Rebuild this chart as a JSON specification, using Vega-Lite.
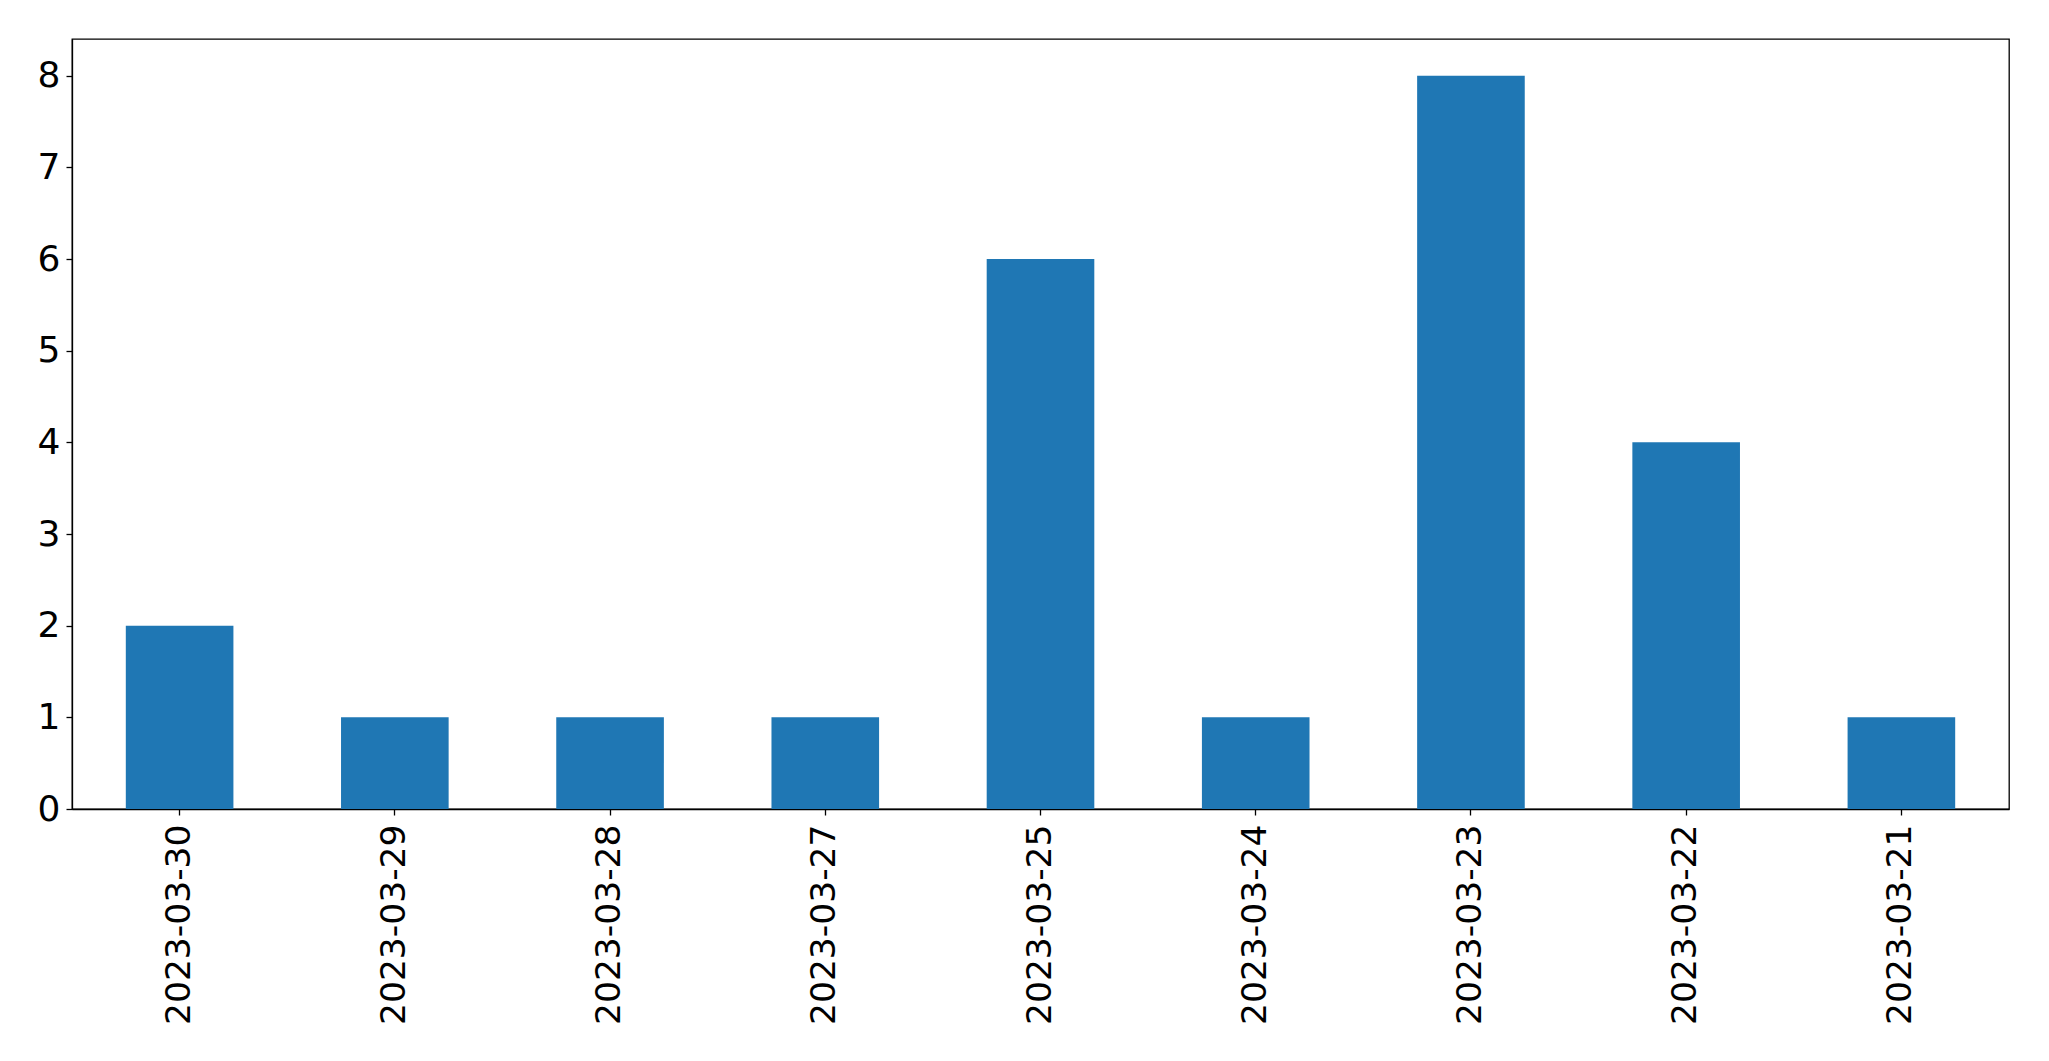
{
  "$schema": "https://vega.github.io/schema/vega-lite/v6.json",
  "autosize": {"type": "none"},
  "width": 1937,
  "height": 770,
  "padding": {"left": 72, "top": 39, "right": 40, "bottom": 252},
  "background": "white",
  "config": {
    "view": {"stroke": "black", "strokeWidth": 1.3},
    "axis": {
      "labelFont": "DejaVu Sans",
      "labelFontSize": 36,
      "labelColor": "black",
      "labelLimit": 0,
      "domainColor": "black",
      "tickColor": "black",
      "tickSize": 6,
      "tickWidth": 1.3,
      "domainWidth": 1.3,
      "grid": false,
      "title": null
    }
  },
  "data": {
    "values": [
      {"date": "2023-03-30", "count": 2},
      {"date": "2023-03-29", "count": 1},
      {"date": "2023-03-28", "count": 1},
      {"date": "2023-03-27", "count": 1},
      {"date": "2023-03-25", "count": 6},
      {"date": "2023-03-24", "count": 1},
      {"date": "2023-03-23", "count": 8},
      {"date": "2023-03-22", "count": 4},
      {"date": "2023-03-21", "count": 1}
    ]
  },
  "mark": {"type": "bar", "color": "#1f77b4"},
  "encoding": {
    "x": {
      "field": "date",
      "type": "nominal",
      "sort": null,
      "scale": {"paddingInner": 0.5, "paddingOuter": 0.25},
      "axis": {"labelAngle": -90, "labelAlign": "right", "labelBaseline": "middle", "labelPadding": 9, "labelFontSize": 34.5}
    },
    "y": {
      "field": "count",
      "type": "quantitative",
      "scale": {"domain": [0, 8.4], "nice": false},
      "axis": {"values": [0, 1, 2, 3, 4, 5, 6, 7, 8], "labelPadding": 6, "labelBaseline": "middle"}
    }
  }
}
